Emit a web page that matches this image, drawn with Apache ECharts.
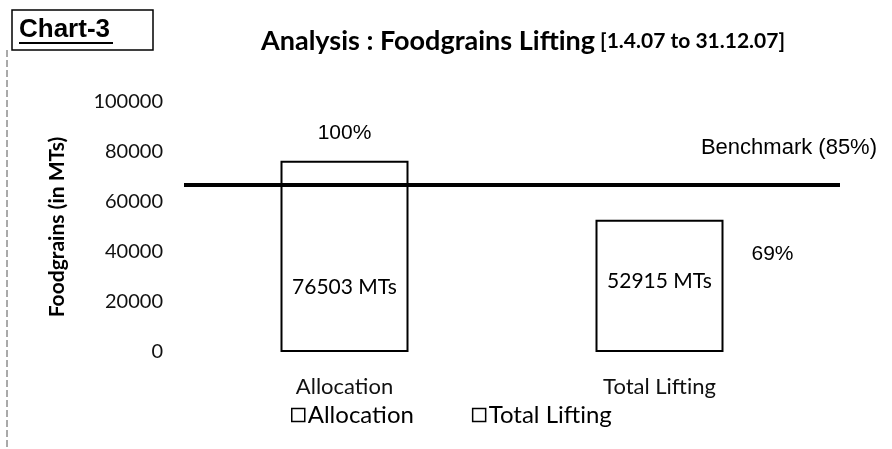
<!DOCTYPE html>
<html>
<head>
<meta charset="utf-8">
<title>Chart-3</title>
<script src="https://cdn.jsdelivr.net/npm/echarts@6/dist/echarts.min.js"></script>
<style>
    html, body { margin: 0; padding: 0; background: #fff; }
    #chart3 { width: 892px; height: 449px; }
</style>
</head>
<body>
<div id="chart3"></div>
<script>
    // data
    var categories = ['Allocation', 'Total Lifting'];
    var allocation = [76503, '-'];
    var lifting = ['-', 52915];
    var benchmark = 67000;          // drawn line sits a little above 85% of allocation
    var benchmarkPct = 85;
    var yTicks = { min: 0, max: 100000, interval: 20000 };

    var chart = echarts.init(document.getElementById('chart3'));

    var labelFont = 'Lato, "Open Sans", sans-serif';
    var arialFont = '"Liberation Sans", Arial, sans-serif';

    // percentage of allocation lifted
    var pct = function (v) {
        return Math.round(v / allocation[0] * 100) + '%';
    };

    chart.setOption({
        animation: false,
        title: {
            text: '{a|Analysis : Foodgrains Lifting} {b|[1.4.07 to 31.12.07]}',
            left: 256,
            top: 23,
            textStyle: {
                rich: {
                    a: { fontFamily: labelFont, fontWeight: 'bold', fontSize: 27, color: '#000' },
                    b: { fontFamily: labelFont, fontWeight: 'bold', fontSize: 21, color: '#000' }
                }
            }
        },
        graphic: [
            { type: 'rect', shape: { x: 12, y: 10, width: 141, height: 40 },
              style: { fill: 'none', stroke: '#000', lineWidth: 1.5 } },
            { type: 'text', x: 19, y: 30,
              style: { text: 'Chart-3', font: 'bold 26px ' + arialFont, fill: '#000', textVerticalAlign: 'middle' } },
            { type: 'line', shape: { x1: 19, y1: 43, x2: 113, y2: 43 },
              style: { stroke: '#000', lineWidth: 2 } },
            { type: 'line', shape: { x1: 7, y1: 50, x2: 7, y2: 449 },
              style: { stroke: '#555', lineWidth: 1, lineDash: [7, 3] } }
        ],
        legend: {
            data: categories,
            left: 286,
            top: 398,
            itemWidth: 13,
            itemHeight: 13,
            itemGap: 58,
            icon: 'rect',
            itemStyle: { color: '#fff', borderColor: '#000', borderWidth: 1.5 },
            textStyle: { fontFamily: labelFont, fontSize: 24, color: '#000', padding: [0, 0, 0, -2] }
        },
        grid: { left: 187, right: 75, top: 102, bottom: 97 },
        xAxis: {
            type: 'category',
            data: categories,
            axisLine: { show: false },
            axisTick: { show: false },
            axisLabel: { margin: 24, fontFamily: labelFont, fontSize: 22, color: '#111' }
        },
        yAxis: {
            type: 'value',
            min: yTicks.min,
            max: yTicks.max,
            interval: yTicks.interval,
            name: 'Foodgrains (in MTs)',
            nameLocation: 'middle',
            nameGap: 119,
            nameTextStyle: { fontFamily: labelFont, fontWeight: 'bold', fontSize: 21, color: '#000' },
            axisLine: { show: false },
            axisTick: { show: false },
            splitLine: { show: false },
            axisLabel: {
                margin: 24, fontFamily: labelFont, fontSize: 20, color: '#111',
                formatter: function (v) { return String(v); }
            }
        },
        series: [
            {
                name: 'Allocation',
                type: 'bar',
                data: allocation,
                barWidth: 128,
                barGap: '-100%',
                itemStyle: { color: '#fff', borderColor: '#000', borderWidth: 2 },
                label: {
                    show: true,
                    position: 'insideBottom',
                    distance: 54,
                    formatter: '{c} MTs',
                    fontFamily: labelFont, fontSize: 21, color: '#000'
                }
            },
            {
                name: 'Total Lifting',
                type: 'bar',
                data: lifting,
                barWidth: 128,
                barGap: '-100%',
                itemStyle: { color: '#fff', borderColor: '#000', borderWidth: 2 },
                label: {
                    show: true,
                    position: 'insideBottom',
                    distance: 60,
                    formatter: '{c} MTs',
                    fontFamily: labelFont, fontSize: 21, color: '#000'
                }
            },
            {   // transparent overlay carrying the % labels and the benchmark line
                name: 'pct',
                type: 'bar',
                barWidth: 128,
                barGap: '-100%',
                z: 5,
                itemStyle: { color: 'rgba(0,0,0,0)' },
                data: [
                    { value: allocation[0], label: { position: 'top', distance: 17 } },
                    { value: lifting[1], label: { position: [156, 24] } }
                ],
                label: {
                    show: true,
                    formatter: function (p) { return pct(p.value); },
                    fontFamily: arialFont, fontSize: 21, color: '#000'
                },
                markLine: {
                    silent: true,
                    symbol: 'none',
                    lineStyle: { color: '#000', width: 4, type: 'solid' },
                    label: {
                        show: true,
                        position: 'insideEndTop',
                        distance: [-37, 26],
                        formatter: 'Benchmark (' + benchmarkPct + '%)',
                        fontFamily: arialFont, fontSize: 22, color: '#000'
                    },
                    data: [[
                        { yAxis: benchmark, x: 184 },
                        { yAxis: benchmark, x: 840 }
                    ]]
                }
            }
        ]
    });
</script>
</body>
</html>
